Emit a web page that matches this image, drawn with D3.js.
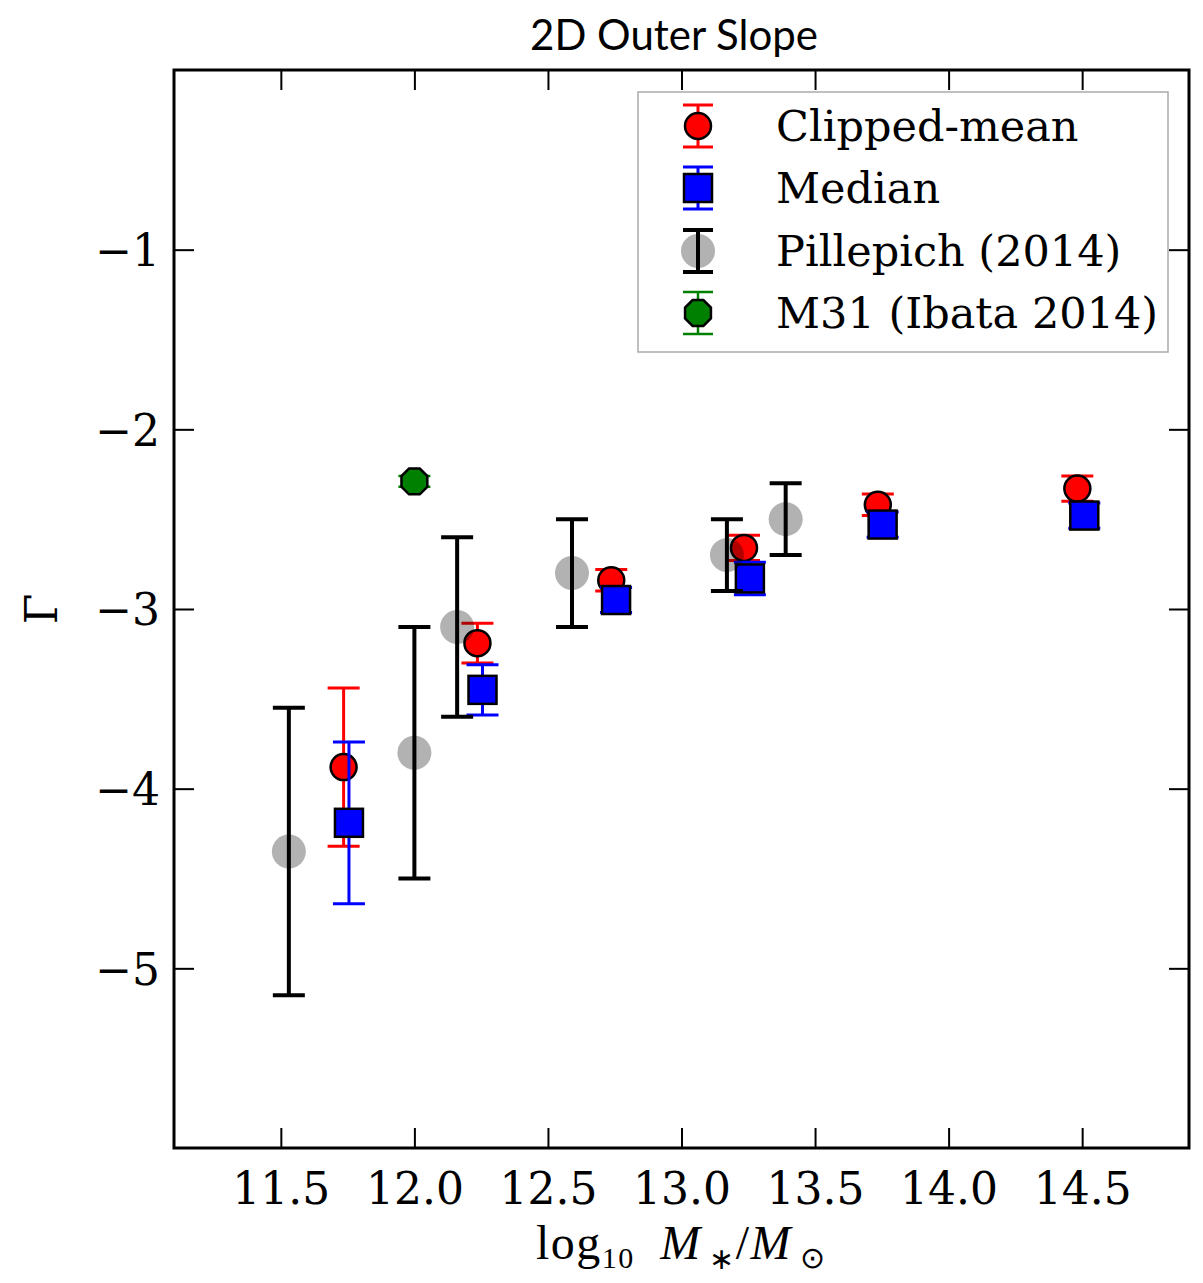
<!DOCTYPE html>
<html><head><meta charset="utf-8">
<script src="https://cdn.jsdelivr.net/npm/d3@7"></script>
<style>body{margin:0;background:#fff}</style>
</head><body>
<svg id="c" width="1203" height="1283"></svg>
<script>
// ---- data ----
const clipX = [11.735, 12.236, 12.737, 13.234, 13.735, 14.482];
const clipY = [-3.88, -3.19, -2.84, -2.66, -2.42, -2.33];
const clipErr = [0.44, 0.11, 0.06, 0.07, 0.06, 0.07];
const medX = [11.755, 12.255, 12.755, 13.256, 13.753, 14.508];
const medY = [-4.19, -3.45, -2.95, -2.83, -2.53, -2.48];
const medErr = [0.45, 0.14, 0.07, 0.09, 0.07, 0.07];
const pillX = [11.53, 12.0, 12.16, 12.59, 13.17, 13.39];
const pillY = [-4.35, -3.80, -3.10, -2.80, -2.70, -2.50];
const pillErr = [0.8, 0.7, 0.5, 0.3, 0.2, 0.2];
const m31X = [12.0];
const m31Y = [-2.29];
const m31Err = [0.03];
const xTicks = [11.5, 12.0, 12.5, 13.0, 13.5, 14.0, 14.5];
const yTicks = [-1, -2, -3, -4, -5];
const legendLabels = ["Clipped-mean", "Median", "Pillepich (2014)", "M31 (Ibata 2014)"];

const L = 174, R = 1189, T = 70, B = 1148;
const x = d3.scaleLinear().domain([11.1, 14.9]).range([L, R]);
const y = d3.scaleLinear().domain([-6, 0]).range([B, T]);
const svg = d3.select("#c");
const serif = "DejaVu Serif";

// axes with inward ticks
const fmtX = d3.format(".1f");
const fmtY = d => "\u2212" + Math.abs(d);
const gB = svg.append("g").attr("transform", `translate(0,${B})`)
  .call(d3.axisBottom(x).tickValues(xTicks).tickFormat(fmtX).tickSizeInner(-20).tickSizeOuter(0).tickPadding(25));
const gT = svg.append("g").attr("transform", `translate(0,${T})`)
  .call(d3.axisTop(x).tickValues(xTicks).tickFormat("").tickSizeInner(-20).tickSizeOuter(0));
const gL = svg.append("g").attr("transform", `translate(${L},0)`)
  .call(d3.axisLeft(y).tickValues(yTicks).tickFormat(fmtY).tickSizeInner(-20).tickSizeOuter(0).tickPadding(14));
const gR = svg.append("g").attr("transform", `translate(${R},0)`)
  .call(d3.axisRight(y).tickValues(yTicks).tickFormat("").tickSizeInner(-20).tickSizeOuter(0));
[gB, gT, gL, gR].forEach(g => {
  g.select(".domain").remove();
  g.selectAll(".tick line").attr("stroke", "#000").attr("stroke-width", 2);
  g.selectAll(".tick text").attr("font-family", serif).attr("font-size", 44).attr("fill", "#000");
});
gL.selectAll(".tick text").attr("dy", "0.36em");

// frame
svg.append("rect").attr("x", L).attr("y", T).attr("width", R - L).attr("height", B - T)
  .attr("fill", "none").attr("stroke", "#000").attr("stroke-width", 3);

const plot = svg.append("g");

function errbars(g, xs, ys, es, color, w, cap) {
  xs.forEach((xv, i) => {
    const cx = x(xv), y1 = y(ys[i] + es[i]), y2 = y(ys[i] - es[i]);
    g.append("line").attr("x1", cx).attr("x2", cx).attr("y1", y1).attr("y2", y2)
      .attr("stroke", color).attr("stroke-width", w);
    [y1, y2].forEach(yy => g.append("line").attr("x1", cx - cap).attr("x2", cx + cap)
      .attr("y1", yy).attr("y2", yy).attr("stroke", color).attr("stroke-width", w));
  });
}
function octagon(cx, cy, r) {
  const pts = d3.range(8).map(k => {
    const a = Math.PI / 8 + k * Math.PI / 4;
    return [cx + r * Math.cos(a), cy + r * Math.sin(a)];
  });
  return "M" + pts.map(p => p.join(",")).join("L") + "Z";
}

// Clipped-mean
const gc = plot.append("g");
errbars(gc, clipX, clipY, clipErr, "#ff0000", 3, 16);
clipX.forEach((xv, i) => gc.append("circle").attr("cx", x(xv)).attr("cy", y(clipY[i])).attr("r", 13)
  .attr("fill", "#ff0000").attr("stroke", "#000").attr("stroke-width", 2.5));
// Median
const gm = plot.append("g");
errbars(gm, medX, medY, medErr, "#0000ff", 3, 16);
medX.forEach((xv, i) => gm.append("rect").attr("x", x(xv) - 14).attr("y", y(medY[i]) - 14)
  .attr("width", 28).attr("height", 28)
  .attr("fill", "#0000ff").attr("stroke", "#000").attr("stroke-width", 2.5));
// Pillepich
const gp = plot.append("g");
pillX.forEach((xv, i) => gp.append("circle").attr("cx", x(xv)).attr("cy", y(pillY[i])).attr("r", 17)
  .attr("fill", "#000").attr("fill-opacity", 0.3));
errbars(gp, pillX, pillY, pillErr, "#000", 4, 16);
// M31
const go = plot.append("g");
errbars(go, m31X, m31Y, m31Err, "#008000", 2.5, 16);
m31X.forEach((xv, i) => go.append("path").attr("d", octagon(x(xv), y(m31Y[i]), 14))
  .attr("fill", "#008000").attr("stroke", "#000").attr("stroke-width", 2.5));

// Legend
const lg = svg.append("g");
lg.append("rect").attr("x", 638).attr("y", 92).attr("width", 530).attr("height", 260)
  .attr("fill", "#fff").attr("stroke", "#aaa").attr("stroke-width", 1.5);
const rowY = [126, 188, 251, 313];
const lx = 698;
function legBar(cy, color, w) {
  lg.append("line").attr("x1", lx).attr("x2", lx).attr("y1", cy - 21).attr("y2", cy + 21)
    .attr("stroke", color).attr("stroke-width", w);
  [cy - 21, cy + 21].forEach(yy => lg.append("line").attr("x1", lx - 15).attr("x2", lx + 15)
    .attr("y1", yy).attr("y2", yy).attr("stroke", color).attr("stroke-width", w));
}
legBar(rowY[0], "#ff0000", 3);
lg.append("circle").attr("cx", lx).attr("cy", rowY[0]).attr("r", 13).attr("fill", "#ff0000").attr("stroke", "#000").attr("stroke-width", 2.5);
legBar(rowY[1], "#0000ff", 3);
lg.append("rect").attr("x", lx - 14).attr("y", rowY[1] - 14).attr("width", 28).attr("height", 28).attr("fill", "#0000ff").attr("stroke", "#000").attr("stroke-width", 2.5);
lg.append("circle").attr("cx", lx).attr("cy", rowY[2]).attr("r", 17).attr("fill", "#000").attr("fill-opacity", 0.3);
legBar(rowY[2], "#000", 4);
legBar(rowY[3], "#008000", 2.5);
lg.append("path").attr("d", octagon(lx, rowY[3], 14)).attr("fill", "#008000").attr("stroke", "#000").attr("stroke-width", 2.5);
legendLabels.forEach((t, i) => lg.append("text").attr("x", 776).attr("y", rowY[i]).attr("dy", "0.36em")
  .attr("font-family", serif).attr("font-size", 43).attr("fill", "#000").text(t));

// Title
svg.append("text").attr("x", 674).attr("y", 50).attr("text-anchor", "middle")
  .attr("font-family", "Lato").attr("font-size", 42).attr("fill", "#000").text("2D Outer Slope");

// Y label
svg.append("text").attr("transform", "translate(57,609) rotate(-90)").attr("text-anchor", "middle")
  .attr("font-family", serif).attr("font-size", 44).attr("fill", "#000").text("Γ");

// X label
const xl = svg.append("text").attr("x", 681).attr("y", 1259).attr("text-anchor", "middle")
  .attr("font-family", "Liberation Serif").attr("font-size", 48).attr("fill", "#000")
  .attr("letter-spacing", 1.5);
xl.append("tspan").text("log");
xl.append("tspan").attr("font-size", 30).attr("dy", 9).text("10");
xl.append("tspan").attr("dy", -9).text("\u2002");
xl.append("tspan").attr("font-style", "italic").text("M");
xl.append("tspan").attr("font-size", 30).attr("dy", 10).text("\u2009\u2217");
xl.append("tspan").attr("dy", -10).text("/");
xl.append("tspan").attr("font-style", "italic").text("M");
xl.append("tspan").attr("font-size", 30).attr("dy", 9).text("\u2009⊙");
</script>
</body></html>
